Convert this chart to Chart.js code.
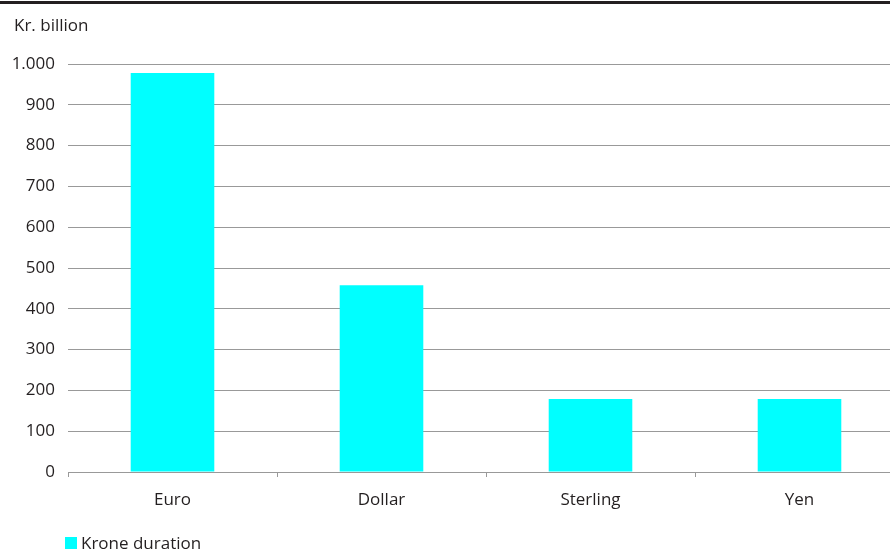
<!DOCTYPE html>
<html>
<head>
<meta charset="utf-8">
<script src="https://cdn.jsdelivr.net/npm/chart.js@4"></script>
<style>
  html, body { margin: 0; padding: 0; background: #fff; overflow: hidden; width: 890px; height: 559px; }
  .topline { position: absolute; left: 0; top: 1px; width: 890px; height: 3px; background: #231f20; }
  .wrap { position: absolute; left: 0; top: 0; width: 910px; height: 559px; }
</style>
</head>
<body>
<div class="topline"></div>
<div class="wrap"><canvas id="durationChart" width="910" height="559"></canvas></div>
<script>
// Krone duration by currency
const categories = ['Euro', 'Dollar', 'Sterling', 'Yen'];
const kroneDuration = [978, 458, 179, 179];
const yTicks = [0, 100, 200, 300, 400, 500, 600, 700, 800, 900, 1000];

const textColor = '#231f20';
const gridColor = '#999999';
const fontFamily = '"Open Sans", "Noto Sans", sans-serif';
const fontSize = 17;

// draws the unit label and the legend
const extras = {
  id: 'extras',
  afterDraw(chart) {
    const ctx = chart.ctx;
    const ds = chart.data.datasets[0];
    ctx.save();
    ctx.font = fontSize + 'px ' + fontFamily;
    ctx.fillStyle = textColor;
    ctx.textBaseline = 'middle';
    ctx.textAlign = 'left';
    ctx.fillText('Kr. billion', 14, 26);
    ctx.fillStyle = ds.backgroundColor;
    ctx.fillRect(65, 537, 12, 12);
    ctx.fillStyle = textColor;
    ctx.fillText(ds.label, 81, 544);
    ctx.restore();
  }
};

window.onload = function() {
  var ctx = document.getElementById('durationChart').getContext('2d');
  window.durationChart = new Chart(ctx, {
    type: 'bar',
    data: {
      labels: categories,
      datasets: [{
        label: 'Krone duration',
        data: kroneDuration,
        backgroundColor: '#00ffff',
        borderWidth: 0,
        categoryPercentage: 1,
        barPercentage: 0.4
      }]
    },
    options: {
      responsive: false,
      animation: false,
      layout: { padding: { top: 64, right: 6, left: 0, bottom: 0 } },
      plugins: { legend: { display: false }, tooltip: { enabled: false } },
      scales: {
        x: {
          offset: true,
          grid: { offset: true, drawOnChartArea: false, drawTicks: true, tickLength: 5, color: gridColor },
          border: { display: true, color: gridColor, width: 1 },
          ticks: { color: textColor, font: { family: fontFamily, size: fontSize }, padding: 13 },
          afterFit(scale) { scale.height = 87; }
        },
        y: {
          min: 0,
          max: 1000,
          afterBuildTicks(scale) { scale.ticks = yTicks.map(v => ({ value: v })); },
          grid: { drawTicks: false, color: gridColor },
          border: { display: false },
          ticks: {
            color: textColor,
            font: { family: fontFamily, size: fontSize },
            padding: 13,
            callback: v => v.toLocaleString('de-DE')
          },
          afterFit(scale) { scale.width = 68; }
        }
      }
    },
    plugins: [extras]
  });
};
</script>
</body>
</html>
